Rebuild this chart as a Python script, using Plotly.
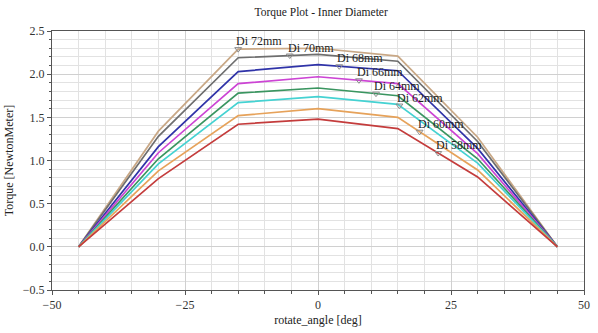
import numpy as np
import plotly.graph_objects as go

# Rotor angle sweep [deg]
angle = [-45, -30, -15, 0, 15, 30, 45]

# Torque [NewtonMeter] for each inner diameter
diameters = ["Di 72mm", "Di 70mm", "Di 68mm", "Di 66mm", "Di 64mm", "Di 62mm", "Di 60mm", "Di 58mm"]
torque_72 = [0.0, 1.34, 2.29, 2.30, 2.21, 1.27, 0.0]
torque_70 = [0.0, 1.28, 2.19, 2.23, 2.15, 1.22, 0.0]
torque_68 = [0.0, 1.16, 2.03, 2.11, 2.04, 1.14, 0.0]
torque_66 = [0.0, 1.09, 1.89, 1.97, 1.89, 1.08, 0.0]
torque_64 = [0.0, 1.02, 1.78, 1.84, 1.75, 1.02, 0.0]
torque_62 = [0.0, 0.96, 1.67, 1.74, 1.65, 0.97, 0.0]
torque_60 = [0.0, 0.88, 1.52, 1.60, 1.50, 0.89, 0.0]
torque_58 = [0.0, 0.79, 1.42, 1.48, 1.37, 0.81, 0.0]
series = [torque_72, torque_70, torque_68, torque_66, torque_64, torque_62, torque_60, torque_58]

# Angle at which each curve carries its name tag
label_angle = [-15, -5.3, 4.0, 7.7, 10.9, 15.3, 19.1, 22.6]

colors = ["#c9a886", "#6e6e6e", "#2f33a8", "#cc44d4", "#3a9560",
          "#45d2d2", "#e6a25a", "#c43c3c"]

fig = go.Figure()
for name, vals, col in zip(diameters, series, colors):
    fig.add_trace(go.Scatter(x=angle, y=vals, mode="lines", name=name,
                             line=dict(color=col, width=1.7)))

serif = "Liberation Serif, Times New Roman, serif"
mx, my = [], []
for name, vals, ax in zip(diameters, series, label_angle):
    ay = float(np.interp(ax, angle, vals))
    mx.append(ax)
    my.append(ay)
    fig.add_annotation(x=ax, y=ay, text=name, showarrow=False,
                       xanchor="left", yanchor="middle", xshift=-4, yshift=8,
                       font=dict(family=serif, size=12, color="#222"))

fig.add_trace(go.Scatter(x=mx, y=my, mode="markers", showlegend=False,
                         marker=dict(symbol="triangle-down-open", size=6,
                                     color="#8a8a8a", line=dict(width=1))))

fig.update_layout(
    width=598, height=333,
    margin=dict(l=52, r=8, t=31, b=40),
    paper_bgcolor="white", plot_bgcolor="white",
    showlegend=False,
    title=dict(text="Torque Plot - Inner Diameter", x=0.537, xanchor="center",
               y=0.965, yanchor="middle",
               font=dict(family=serif, size=11.5, color="#222")),
    font=dict(family=serif, size=12, color="#333"),
)
fig.update_xaxes(
    range=[-50, 50], tickvals=[-50, -25, 0, 25, 50],
    ticks="outside", ticklen=4, tickcolor="#555",
    showline=True, linecolor="#555", linewidth=1, mirror=True,
    showgrid=True, gridcolor="#d0d0d0", gridwidth=1, zeroline=False,
    minor=dict(dtick=5, ticks="outside", ticklen=3, tickcolor="#555",
               showgrid=True, gridcolor="#e2e2e2"),
    title=dict(text="rotate_angle [deg]", standoff=4,
               font=dict(family=serif, size=12, color="#222")),
    tickfont=dict(family=serif, size=12, color="#333"),
)
fig.update_yaxes(
    range=[-0.5, 2.5], dtick=0.5, tickformat=".1f",
    ticks="outside", ticklen=4, tickcolor="#555",
    showline=True, linecolor="#555", linewidth=1, mirror=True,
    showgrid=True, gridcolor="#d0d0d0", gridwidth=1, zeroline=False,
    minor=dict(dtick=0.1, ticks="outside", ticklen=2, tickcolor="#555",
               showgrid=True, gridcolor="#e2e2e2"),
    title=dict(text="Torque [NewtonMeter]", standoff=6,
               font=dict(family=serif, size=12, color="#222")),
    tickfont=dict(family=serif, size=12, color="#333"),
)

fig.write_html("out.html")
